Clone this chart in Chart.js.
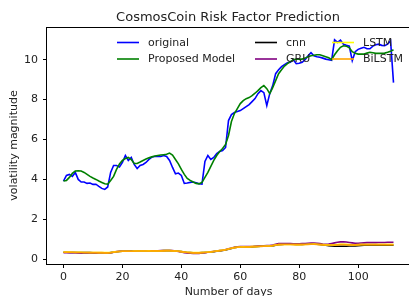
<!DOCTYPE html>
<html>
<head>
<meta charset="utf-8">
<script src="https://cdn.jsdelivr.net/npm/chart.js@4/dist/chart.umd.min.js"></script>
<style>
html, body { margin: 0; padding: 0; background: #fff; overflow: hidden; }
#wrap { width: 410px; height: 296px; }
</style>
</head>
<body>
<div id="wrap"><canvas id="riskChart" width="410" height="296"></canvas></div>
<script>
// days on the x axis
var days = [0,1,2,3,4,5,6,7,8,9,10,11,12,13,14,15,16,17,18,19,20,21,22,23,24,25,26,27,28,29,
  30,31,32,33,34,35,36,37,38,39,40,41,42,43,44,45,46,47,48,49,50,51,52,53,54,55,56,57,58,59,
  60,61,62,63,64,65,66,67,68,69,70,71,72,73,74,75,76,77,78,79,80,81,82,83,84,85,86,87,88,89,
  90,91,92,93,94,95,96,97,98,99,100,101,102,103,104,105,106,107,108,109,110,111,112];

var original = [3.92,4.2,4.25,4.15,4.35,4.0,3.87,3.87,3.8,3.82,3.75,3.76,3.65,3.55,3.5,3.62,
  4.35,4.7,4.7,4.62,4.85,5.2,4.95,5.1,4.75,4.55,4.7,4.75,4.85,5.0,5.12,
  5.15,5.15,5.15,5.2,5.15,4.95,4.6,4.28,4.32,4.2,3.8,3.82,3.85,3.87,3.83,3.78,3.76,
  4.9,5.2,5.0,5.1,5.3,5.4,5.45,5.6,6.95,7.25,7.35,7.4,7.45,
  7.55,7.65,7.75,7.9,8.05,8.3,8.45,8.35,7.7,8.3,8.7,9.3,9.5,9.65,9.75,
  9.85,9.87,10.0,9.8,9.82,9.87,10.0,10.2,10.35,10.2,10.15,10.12,10.08,10.03,10.0,
  9.97,11.0,10.87,10.98,10.78,10.72,10.68,9.95,10.4,10.52,10.58,10.62,10.55,10.55,10.68,10.75,10.78,10.72,10.7,10.78,10.95,8.85];

var proposed = [3.92,3.95,4.1,4.3,4.42,4.43,4.42,4.35,4.25,4.15,4.07,4.0,3.92,3.85,3.78,3.76,
  3.95,4.15,4.5,4.78,4.95,5.05,5.1,5.0,4.8,4.8,4.87,4.95,5.02,5.08,5.13,
  5.17,5.2,5.22,5.24,5.26,5.32,5.22,5.0,4.78,4.5,4.25,4.05,3.95,3.87,3.8,3.78,3.85,
  4.1,4.35,4.65,4.95,5.2,5.4,5.55,5.75,6.2,6.9,7.3,7.55,7.8,
  7.95,8.05,8.1,8.2,8.32,8.45,8.6,8.7,8.55,8.3,8.6,8.95,9.3,9.5,9.68,
  9.8,9.9,10.0,10.03,10.03,10.03,10.08,10.15,10.2,10.22,10.25,10.25,10.2,10.15,10.1,
  10.0,10.25,10.45,10.62,10.7,10.68,10.6,10.4,10.32,10.28,10.28,10.28,10.33,10.37,10.35,10.32,10.32,10.32,10.33,10.37,10.42,10.5];

var cnn = [0.35,0.35,0.34,0.34,0.34,0.34,0.33,0.33,0.33,0.33,0.32,0.32,0.32,0.32,0.31,0.31,
  0.33,0.35,0.37,0.39,0.40,0.40,0.40,0.41,0.41,0.41,0.41,0.41,0.42,0.42,0.42,
  0.42,0.42,0.42,0.43,0.43,0.43,0.42,0.41,0.40,0.38,0.36,0.34,0.33,0.32,0.32,0.32,0.33,
  0.34,0.35,0.36,0.38,0.40,0.42,0.44,0.46,0.50,0.54,0.58,0.60,0.61,
  0.61,0.61,0.62,0.62,0.63,0.64,0.65,0.65,0.66,0.66,0.67,0.70,0.73,0.74,0.75,
  0.75,0.75,0.75,0.74,0.74,0.74,0.75,0.75,0.76,0.76,0.75,0.74,0.72,0.70,0.68,
  0.66,0.65,0.65,0.65,0.65,0.65,0.66,0.66,0.67,0.68,0.69,0.70,0.70,0.70,0.70,0.70,0.70,0.70,0.70,0.70,0.70,0.70];

var gru = [0.33,0.33,0.33,0.33,0.33,0.32,0.32,0.32,0.31,0.31,0.31,0.30,0.30,0.30,0.30,0.30,
  0.32,0.35,0.38,0.40,0.41,0.41,0.41,0.41,0.41,0.41,0.41,0.42,0.42,0.42,0.42,
  0.42,0.42,0.43,0.43,0.44,0.44,0.43,0.41,0.39,0.36,0.33,0.31,0.30,0.29,0.29,0.29,0.31,
  0.33,0.35,0.37,0.39,0.41,0.43,0.45,0.48,0.52,0.56,0.60,0.62,0.63,
  0.63,0.63,0.64,0.64,0.65,0.66,0.67,0.67,0.68,0.69,0.71,0.75,0.78,0.79,0.79,
  0.79,0.78,0.77,0.77,0.77,0.78,0.79,0.80,0.81,0.81,0.80,0.78,0.76,0.75,0.76,
  0.79,0.82,0.85,0.87,0.87,0.86,0.84,0.82,0.80,0.80,0.81,0.82,0.83,0.83,0.83,0.83,0.84,0.84,0.84,0.85,0.85,0.85];

var lstm = [0.36,0.36,0.36,0.35,0.35,0.35,0.35,0.34,0.34,0.34,0.34,0.34,0.33,0.33,0.33,0.33,
  0.34,0.36,0.38,0.39,0.40,0.40,0.40,0.40,0.41,0.41,0.41,0.41,0.41,0.42,0.42,
  0.42,0.42,0.42,0.43,0.43,0.43,0.42,0.41,0.40,0.38,0.36,0.35,0.34,0.33,0.33,0.33,0.34,
  0.35,0.36,0.37,0.39,0.41,0.43,0.45,0.47,0.51,0.55,0.58,0.60,0.61,
  0.62,0.62,0.62,0.63,0.63,0.64,0.65,0.65,0.66,0.66,0.68,0.71,0.73,0.74,0.74,
  0.74,0.74,0.74,0.73,0.73,0.74,0.74,0.75,0.75,0.76,0.75,0.74,0.73,0.72,0.71,
  0.71,0.72,0.74,0.75,0.75,0.74,0.73,0.72,0.72,0.73,0.74,0.74,0.74,0.74,0.74,0.74,0.74,0.74,0.74,0.74,0.74,0.74];

var bilstm = [0.35,0.35,0.35,0.35,0.34,0.34,0.34,0.34,0.34,0.33,0.33,0.33,0.33,0.33,0.32,0.32,
  0.33,0.35,0.37,0.39,0.40,0.40,0.40,0.40,0.40,0.41,0.41,0.41,0.41,0.41,0.42,
  0.42,0.42,0.42,0.42,0.43,0.43,0.42,0.41,0.40,0.38,0.36,0.34,0.33,0.32,0.32,0.32,0.33,
  0.34,0.35,0.37,0.39,0.41,0.43,0.45,0.47,0.51,0.55,0.58,0.60,0.61,
  0.61,0.62,0.62,0.63,0.63,0.64,0.64,0.65,0.65,0.66,0.68,0.71,0.73,0.73,0.74,
  0.74,0.74,0.73,0.73,0.73,0.73,0.74,0.74,0.75,0.75,0.74,0.73,0.72,0.71,0.71,
  0.71,0.71,0.72,0.73,0.73,0.73,0.72,0.72,0.72,0.72,0.73,0.73,0.73,0.73,0.73,0.73,0.73,0.73,0.73,0.73,0.73,0.73];

var xTicks = [0, 20, 40, 60, 80, 100];
var yTicks = [0, 2, 4, 6, 8, 10];

var chartTitle = "CosmosCoin Risk Factor Prediction";
var seriesNames = ["original", "Proposed Model", "cnn", "GRU", "LSTM", "BiLSTM"];
var seriesColors = ["#0000ff", "#008000", "#000000", "#800080", "#ffff00", "#ffa500"];
var seriesValues = [original, proposed, cnn, gru, lstm, bilstm];

function toPoints(vals) {
    return days.map(function(d, i) { return {x: d, y: vals[i]}; });
}

var datasets = seriesNames.map(function(name, i) {
    return {
        label: name,
        data: toPoints(seriesValues[i]),
        borderColor: seriesColors[i],
        backgroundColor: seriesColors[i],
        borderWidth: 1.6,
        pointRadius: 0,
        tension: 0,
        fill: false,
        order: seriesNames.length - 1 - i   // later series on top, like matplotlib
    };
});

// frame around the axes, title centred over the plot, legend inside the plot with no box
var frameAndLegend = {
    id: 'frameAndLegend',
    afterDatasetsDraw: function(chart) {
        var ctx = chart.ctx, a = chart.chartArea;
        ctx.save();
        ctx.strokeStyle = '#000';
        ctx.lineWidth = 1;
        ctx.strokeRect(Math.round(a.left) - 0.5, Math.round(a.top) + 0.5,
            Math.round(a.right) - Math.round(a.left) + 1, Math.round(a.bottom) - Math.round(a.top));

        ctx.fillStyle = '#222';
        ctx.font = '13px "DejaVu Sans"';
        ctx.textAlign = 'center';
        ctx.textBaseline = 'alphabetic';
        ctx.fillText(chartTitle, (a.left + 409) / 2, 21);

        var cols = [117, 255, 332];
        var rows = [42.5, 59];
        ctx.font = '11px "DejaVu Sans"';
        ctx.textBaseline = 'middle';
        ctx.textAlign = 'left';
        chart.data.datasets.forEach(function(ds, i) {
            var x = cols[Math.floor(i / 2)], y = rows[i % 2];
            ctx.strokeStyle = ds.borderColor;
            ctx.lineWidth = 1.6;
            ctx.beginPath();
            ctx.moveTo(x, y);
            ctx.lineTo(x + 22, y);
            ctx.stroke();
            ctx.fillStyle = '#222';
            ctx.fillText(ds.label, x + 31, y + 0.5);
        });
        ctx.restore();
    }
};

var ctx = document.getElementById('riskChart').getContext('2d');
var riskChart = new Chart(ctx, {
    type: 'line',
    data: { datasets: datasets },
    options: {
        responsive: false,
        animation: false,
        layout: { padding: { top: 27, left: 0, right: 0, bottom: 0 } },
        plugins: {
            legend: { display: false },
            tooltip: { enabled: false },
            title: { display: false }
        },
        scales: {
            x: {
                type: 'linear',
                min: -5.6,
                max: 117.6,
                afterBuildTicks: function(axis) { axis.ticks = xTicks.map(function(v) { return {value: v}; }); },
                afterFit: function(axis) { axis.height = 32; },
                grid: { drawOnChartArea: false, tickLength: 4, tickColor: '#000', tickWidth: 1 },
                border: { display: false },
                ticks: {
                    color: '#222', padding: 3, maxRotation: 0,
                    font: { family: 'DejaVu Sans', size: 11 }
                },
                title: {
                    display: true, text: 'Number of days', color: '#222',
                    font: { family: 'DejaVu Sans', size: 11 },
                    padding: { top: 0, bottom: -3.1 }
                }
            },
            y: {
                type: 'linear',
                min: -0.24,
                max: 11.64,
                afterBuildTicks: function(axis) { axis.ticks = yTicks.map(function(v) { return {value: v}; }); },
                afterFit: function(axis) { axis.width = 47; },
                grid: { drawOnChartArea: false, tickLength: 4, tickColor: '#000', tickWidth: 1 },
                border: { display: false },
                ticks: {
                    color: '#222', padding: 5,
                    font: { family: 'DejaVu Sans', size: 11 }
                },
                title: {
                    display: true, text: 'volatility magnitude', color: '#222',
                    font: { family: 'DejaVu Sans', size: 11 },
                    padding: { top: 7.4, bottom: 0 }
                }
            }
        }
    },
    plugins: [frameAndLegend]
});
</script>
</body>
</html>
